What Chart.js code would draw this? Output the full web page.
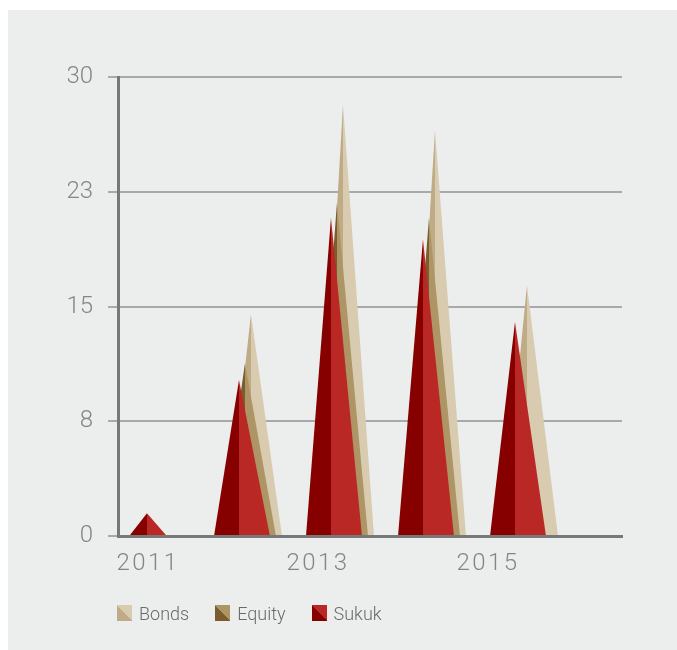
<!DOCTYPE html>
<html>
<head>
<meta charset="utf-8">
<script src="https://cdn.jsdelivr.net/npm/chart.js@4/dist/chart.umd.min.js"></script>
<style>
  html, body { margin: 0; padding: 0; background: #ffffff; }
  body { width: 677px; height: 650px; position: relative; overflow: hidden; font-family: Roboto, "Liberation Sans", sans-serif; }
  #panel { position: absolute; left: 8px; top: 10px; right: 0; bottom: 0; background: #eceeed; }
  #chart { position: absolute; left: 0; top: 0; }
  #legend { position: absolute; left: 117px; top: 603px; display: flex; align-items: center; height: 20px; }
  .item { display: flex; align-items: center; margin-right: 26px; }
  .swatch { width: 15px; height: 16px; margin-right: 7px; }
  .item span { font-size: 18px; font-weight: 300; color: #6a6a6a; }
</style>
</head>
<body>
<div id="panel"></div>
<canvas id="chart" width="677" height="650"></canvas>
<div id="legend"></div>
<script>
/* values */
const years = [2011, 2012, 2013, 2014, 2015];
const labelYears = [2011, 2013, 2015];
const bonds = [0, 14.5, 28.2, 26.5, 16.4];
const equity = [0, 11.3, 21.8, 20.8, 0];
const sukuk = [1.5, 10.2, 20.8, 19.4, 14.0];

/* two tone colours: [shadow side, lit side] */
const tones = {
    Bonds: ['#bfab86', '#d8cbb0'],
    Equity: ['#7b5c2c', '#ad9565'],
    Sukuk: ['#870000', '#b92824']
};
/* peak shift of each series inside a year group, in px */
const shift = { Bonds: 12, Equity: 6, Sukuk: 0 };

function toPoints(values) {
    return years.map((y, i) => ({ x: y, y: values[i] }));
}

/* Draw every point as a two tone spike standing on the zero line. */
const spikes = {
    id: 'spikes',
    afterDatasetsDraw(chart) {
        const ctx = chart.ctx;
        const base = chart.scales.y.getPixelForValue(0);
        chart.data.datasets.forEach((ds, i) => {
            const meta = chart.getDatasetMeta(i);
            const [dark, light] = tones[ds.label];
            meta.data.forEach((pt, j) => {
                if (!ds.data[j].y) return;
                const px = pt.x + shift[ds.label];
                const h = base - pt.y;
                // low spikes get a narrower foot
                const left = px - Math.min(25, h * 0.78);
                const right = px + Math.min(31, h * 0.87);
                ctx.save();
                ctx.fillStyle = dark;
                ctx.beginPath();
                ctx.moveTo(left, base);
                ctx.lineTo(px, pt.y);
                ctx.lineTo(px + 0.5, base);
                ctx.closePath();
                ctx.fill();
                ctx.fillStyle = light;
                ctx.beginPath();
                ctx.moveTo(px, base);
                ctx.lineTo(px, pt.y);
                ctx.lineTo(right, base);
                ctx.closePath();
                ctx.fill();
                ctx.restore();
            });
        });
    }
};

/* Spread the year labels a little, like the original lettering. */
const spacedYears = {
    id: 'spacedYears',
    beforeDraw(chart) {
        const scale = chart.scales.xl;
        if (scale._spaced) return;
        const orig = scale.drawLabels;
        scale.drawLabels = function(area) {
            chart.ctx.save();
            chart.ctx.letterSpacing = '2.5px';
            orig.call(this, area);
            chart.ctx.restore();
        };
        scale._spaced = true;
    }
};

const chart = new Chart(document.getElementById('chart'), {
    type: 'scatter',
    data: {
        datasets: [
            { label: 'Bonds', data: toPoints(bonds) },
            { label: 'Equity', data: toPoints(equity) },
            { label: 'Sukuk', data: toPoints(sukuk) }
        ]
    },
    options: {
        responsive: false,
        animation: false,
        showLine: false,
        pointRadius: 0,
        layout: { padding: { left: 68, right: 55, top: 77, bottom: 67 } },
        plugins: {
            legend: { display: false },
            tooltip: { enabled: false }
        },
        scales: {
            x: {
                type: 'linear',
                display: false,
                min: 2010.685,
                max: 2016.163
            },
            xl: {
                type: 'linear',
                position: 'bottom',
                min: 2010.647,
                max: 2016.576,
                afterBuildTicks: (s) => { s.ticks = labelYears.map(v => ({ value: v })); },
                grid: { display: false },
                border: { color: '#787878', width: 3, z: 1 },
                ticks: {
                    padding: 5,
                    color: '#858585',
                    font: { family: 'Roboto', size: 24, weight: 300 },
                    callback: (v) => String(v)
                }
            },
            y: {
                min: 0,
                max: 30,
                afterFit: (s) => { s.width = 50; },
                ticks: {
                    stepSize: 7.5,
                    padding: 15,
                    color: '#858585',
                    font: { family: 'Roboto', size: 24, weight: 300 },
                    callback: (v) => Math.round(v)
                },
                grid: { color: '#a9a9a9', lineWidth: 2, tickLength: 10, tickColor: '#a9a9a9' },
                border: { color: '#787878', width: 3 }
            }
        }
    },
    plugins: [spikes, spacedYears]
});

/* legend as plain markup, fed by the datasets */
const legend = document.getElementById('legend');
chart.data.datasets.forEach(ds => {
    const [dark, light] = tones[ds.label];
    const item = document.createElement('div');
    item.className = 'item';
    item.innerHTML = '<div class="swatch" style="background:linear-gradient(to top right,' +
        dark + ' 50%,' + light + ' 50%)"></div><span>' + ds.label + '</span>';
    legend.appendChild(item);
});
</script>
</body>
</html>
